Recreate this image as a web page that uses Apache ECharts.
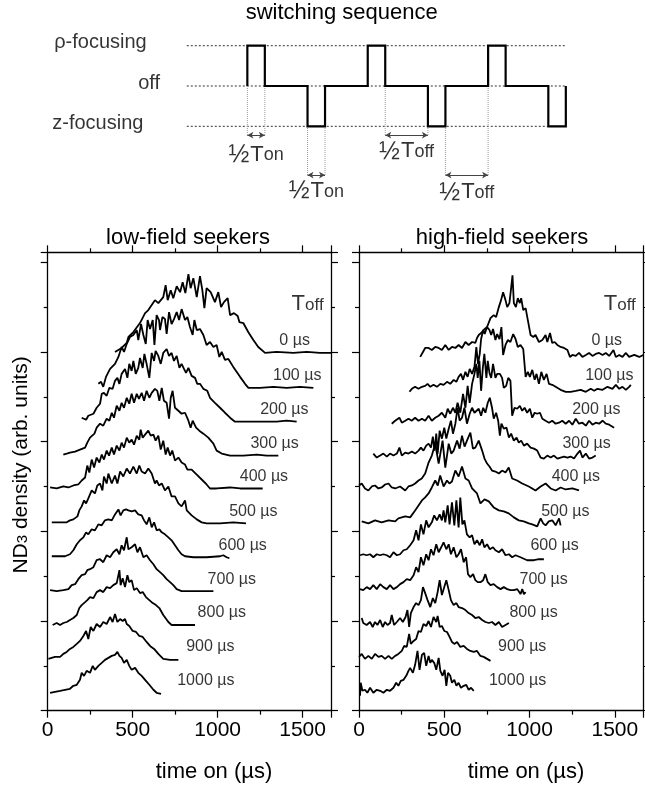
<!DOCTYPE html>
<html>
<head>
<meta charset="utf-8">
<script src="https://cdn.jsdelivr.net/npm/echarts@6/dist/echarts.min.js"></script>
<style>
html, body { margin: 0; padding: 0; background: #fff; }
#chart { width: 645px; height: 789px; }
</style>
</head>
<body>
<div id="chart"></div>
<script>
// ---- data ----
var tMax = 1667;          // right end of the time axis (µs)
var yMax = 460;           // arb. units
var toffNames = ['0 µs', '100 µs', '200 µs', '300 µs', '400 µs', '500 µs', '600 µs', '700 µs', '800 µs', '900 µs', '1000 µs'];
var baselines = [359, 324, 290, 256, 223, 188, 154, 120, 86, 52, 18];   // vertical offset of each trace
var xTicks = [0, 500, 1000, 1500];

// low-field seekers, [time on (µs), signal above baseline]
var low0 = [[396,1],[435,5],[465,10],[475,16],[504,21],[543,30],[573,40],[592,43],[631,53],[651,50],[680,56],[694,68],[706,53],[724,63],[739,55],[759,67],[779,61],[794,71],[810,60],[828,79],[841,65],[857,75],[877,56],[896,77],[910,63],[922,45],[935,65],[959,61],[984,51],[1004,61],[1020,46],[1037,51],[1059,55],[1073,38],[1096,40],[1118,37],[1128,31],[1151,30],[1180,21],[1210,13],[1239,6],[1279,0],[1347,1],[1445,0],[1524,1],[1602,0],[1667,0]];
var low100 = [[298,4],[314,6],[327,1],[343,11],[367,19],[396,24],[416,31],[435,41],[449,36],[465,44],[484,51],[504,53],[524,58],[533,48],[549,64],[563,53],[577,44],[588,68],[602,59],[618,68],[628,43],[641,73],[655,68],[661,58],[675,71],[690,69],[700,54],[714,76],[729,64],[743,69],[759,76],[773,68],[788,79],[808,68],[822,71],[837,61],[853,53],[863,68],[877,58],[896,59],[916,53],[935,43],[955,46],[975,41],[994,43],[1010,31],[1024,36],[1043,28],[1063,29],[1092,21],[1132,11],[1161,4],[1181,0],[1249,0],[1328,1],[1406,0],[1484,1],[1563,0]];
var low200 = [[200,4],[226,2],[239,6],[269,8],[288,14],[308,18],[318,28],[331,29],[347,26],[363,34],[382,33],[396,41],[410,44],[422,38],[435,48],[455,53],[469,44],[480,58],[494,51],[504,61],[518,48],[533,54],[543,64],[559,54],[569,68],[582,58],[598,44],[612,69],[626,61],[635,71],[651,66],[665,58],[680,69],[700,73],[714,66],[729,69],[743,61],[759,66],[775,54],[788,58],[802,53],[814,49],[828,54],[847,46],[867,44],[880,38],[896,38],[916,33],[939,31],[955,24],[984,19],[1014,14],[1043,9],[1073,4],[1102,0],[1171,0],[1269,0],[1347,0],[1406,1],[1465,0]];
var low300 = [[92,1],[112,2],[131,3],[161,4],[190,6],[220,8],[233,13],[249,18],[275,22],[288,28],[308,32],[327,30],[347,37],[363,35],[377,43],[390,38],[406,50],[422,45],[435,53],[449,48],[465,58],[480,52],[494,62],[508,53],[524,62],[537,57],[553,63],[567,55],[582,65],[598,58],[612,63],[631,67],[645,65],[657,55],[671,68],[684,55],[700,53],[714,37],[724,58],[735,65],[749,48],[769,45],[788,42],[808,43],[828,35],[841,28],[853,35],[873,28],[892,25],[916,22],[945,18],[975,12],[994,5],[1024,2],[1073,0],[1151,0],[1230,1],[1288,0],[1357,0]];
var low400 = [[14,1],[53,0],[92,2],[122,1],[151,3],[180,4],[200,8],[220,11],[233,23],[245,16],[259,29],[273,21],[288,31],[304,26],[318,34],[331,29],[347,38],[361,33],[377,41],[390,34],[406,43],[422,38],[435,46],[449,41],[465,51],[480,46],[494,49],[508,44],[524,53],[539,49],[547,59],[559,51],[573,54],[592,58],[606,53],[622,54],[635,48],[651,53],[665,39],[680,48],[694,34],[706,41],[720,33],[733,38],[749,28],[769,31],[788,26],[808,24],[822,19],[847,19],[877,14],[906,9],[935,4],[955,0],[994,0],[1073,1],[1132,0],[1210,0],[1265,0]];
var low500 = [[24,1],[53,1],[82,1],[112,1],[131,3],[151,4],[175,7],[186,13],[200,17],[214,23],[226,20],[239,25],[259,33],[278,30],[292,38],[308,40],[322,33],[331,47],[347,40],[357,50],[377,40],[396,48],[410,40],[426,52],[445,47],[465,55],[484,50],[504,57],[524,50],[539,58],[553,52],[573,50],[592,55],[612,50],[631,40],[641,43],[655,38],[671,40],[690,33],[710,37],[729,27],[749,27],[769,20],[788,17],[808,23],[818,13],[847,8],[877,4],[906,1],[935,0],[1014,0],[1092,1],[1167,0]];
var low600 = [[24,1],[63,1],[102,1],[131,3],[151,7],[171,13],[190,17],[210,20],[226,25],[239,23],[259,28],[278,27],[298,33],[318,32],[337,37],[357,38],[377,37],[396,43],[416,48],[429,42],[445,47],[461,48],[475,47],[494,46],[514,47],[533,43],[553,42],[567,37],[582,33],[598,40],[612,30],[626,35],[641,27],[657,28],[671,25],[690,23],[710,20],[729,17],[749,12],[769,7],[788,3],[808,1],[857,0],[935,0],[1014,1],[1033,2],[1053,0],[1069,-1]];
var low700 = [[14,1],[53,0],[92,1],[122,2],[141,6],[161,7],[180,12],[200,16],[220,17],[233,21],[249,22],[269,24],[288,31],[308,32],[327,29],[347,36],[367,34],[386,39],[406,42],[422,37],[435,46],[449,41],[465,54],[475,42],[494,44],[514,47],[528,39],[543,44],[563,34],[582,36],[602,31],[622,27],[641,22],[661,19],[680,16],[700,12],[720,9],[739,6],[759,2],[788,0],[857,0],[935,0],[975,0]];
var low800 = [[29,0],[53,2],[73,0],[92,2],[112,3],[131,5],[151,7],[171,10],[186,17],[200,20],[220,23],[233,25],[249,28],[269,27],[288,33],[308,35],[327,33],[347,38],[367,37],[386,40],[406,42],[422,55],[429,40],[441,47],[455,38],[469,50],[480,43],[494,45],[508,35],[524,37],[543,32],[559,33],[578,28],[598,25],[618,22],[637,20],[657,17],[680,10],[710,3],[729,0],[798,0],[867,0]];
var low900 = [[4,0],[43,2],[73,2],[92,5],[112,7],[131,10],[151,12],[171,15],[190,18],[210,23],[226,28],[239,20],[253,32],[269,28],[288,35],[308,32],[327,37],[347,35],[367,42],[382,37],[396,45],[410,37],[426,40],[441,38],[455,40],[465,35],[480,33],[500,28],[520,27],[539,23],[559,22],[582,17],[602,13],[626,10],[651,5],[680,0],[720,-1],[769,-1]];
var low1000 = [[14,0],[43,1],[73,2],[102,3],[131,4],[151,7],[171,8],[190,13],[200,20],[214,17],[229,22],[249,20],[265,27],[278,23],[298,27],[318,30],[337,33],[357,35],[377,37],[396,38],[410,41],[422,37],[435,35],[449,30],[465,33],[480,27],[494,23],[514,25],[533,20],[553,17],[573,13],[598,8],[622,3],[641,0],[667,-1]];

// high-field seekers
var high0 = [[359,-4],[375,1],[388,5],[408,5],[427,3],[447,6],[467,5],[486,3],[506,8],[526,3],[545,6],[565,5],[584,8],[604,5],[624,11],[643,8],[663,11],[682,10],[692,15],[702,18],[716,20],[731,23],[751,26],[771,35],[790,38],[804,36],[820,46],[833,53],[845,61],[859,53],[869,46],[882,50],[892,65],[900,78],[908,50],[920,46],[931,55],[943,50],[951,55],[963,43],[977,45],[990,33],[1006,18],[1022,16],[1035,18],[1055,11],[1075,13],[1094,18],[1104,11],[1120,20],[1133,10],[1147,11],[1163,8],[1182,6],[1202,5],[1222,3],[1237,-4],[1251,-2],[1271,-3],[1290,0],[1310,-4],[1330,-2],[1349,0],[1369,-3],[1388,-1],[1408,0],[1428,-2],[1447,0],[1467,-3],[1492,3],[1506,-4],[1526,-2],[1545,-4],[1565,0],[1584,-4],[1614,-2],[1643,-4],[1667,-2]];
var high100 = [[296,-4],[310,-1],[329,1],[349,-1],[369,1],[388,2],[402,4],[418,1],[437,3],[457,1],[477,4],[496,3],[516,6],[535,4],[555,8],[571,6],[584,11],[598,14],[610,8],[624,16],[637,11],[649,19],[663,14],[677,21],[688,41],[698,24],[708,34],[716,49],[728,58],[737,54],[751,61],[765,58],[775,53],[786,59],[800,48],[810,54],[824,49],[835,61],[845,33],[859,43],[873,48],[888,46],[904,54],[918,49],[931,41],[947,43],[963,39],[977,11],[990,16],[1002,11],[1016,18],[1030,8],[1041,14],[1055,4],[1069,16],[1084,8],[1100,14],[1114,4],[1133,3],[1153,1],[1182,-2],[1212,-4],[1241,-4],[1271,-3],[1300,-2],[1330,-4],[1359,-1],[1379,-3],[1398,-1],[1428,-2],[1457,1],[1486,-1],[1506,3],[1526,-1],[1545,1],[1565,-2],[1584,1],[1594,3]];
var high200 = [[192,-2],[212,1],[222,-1],[237,4],[251,-1],[271,1],[290,3],[310,1],[329,4],[349,1],[369,3],[388,1],[408,6],[427,1],[447,4],[467,6],[486,9],[506,4],[520,13],[535,8],[551,14],[565,9],[578,19],[594,9],[610,28],[624,14],[637,36],[649,19],[663,38],[677,48],[688,58],[696,44],[706,61],[716,31],[726,54],[735,68],[747,44],[755,61],[765,49],[775,44],[786,58],[800,44],[810,48],[826,48],[839,44],[849,34],[863,36],[875,44],[888,41],[898,6],[912,14],[928,13],[943,16],[957,11],[971,14],[986,9],[1002,13],[1016,4],[1030,9],[1045,8],[1061,9],[1075,3],[1094,1],[1114,-1],[1133,1],[1153,-2],[1173,-1],[1192,1],[1212,-2],[1232,1],[1251,-3],[1271,3],[1290,-2],[1310,-1],[1330,-4],[1349,1],[1369,-3],[1388,-1],[1408,-2],[1428,1],[1447,-2],[1467,-3],[1496,-6]];
var high300 = [[84,2],[104,-2],[124,0],[143,2],[163,-1],[182,2],[202,0],[222,2],[237,8],[251,0],[271,3],[290,2],[310,4],[329,2],[349,5],[363,8],[378,5],[394,10],[408,12],[422,8],[433,19],[443,5],[453,22],[461,2],[473,25],[486,17],[500,28],[512,17],[526,27],[539,35],[551,22],[565,32],[578,48],[590,35],[604,38],[618,48],[633,32],[649,42],[663,48],[677,43],[688,45],[702,47],[716,40],[728,48],[741,43],[755,53],[767,58],[780,48],[790,37],[804,43],[816,35],[826,20],[835,32],[849,27],[865,28],[879,18],[892,22],[908,15],[924,18],[937,13],[951,15],[967,10],[986,12],[1006,8],[1026,7],[1045,5],[1065,-2],[1084,-3],[1104,0],[1124,-2],[1143,0],[1163,-3],[1182,-2],[1202,-1],[1222,-2],[1241,-1],[1261,-3],[1281,2],[1296,5],[1310,-2],[1330,2],[1349,-3],[1369,-2],[1388,0]];
var high400 = [[0,3],[16,5],[35,0],[55,-2],[75,2],[94,3],[114,0],[133,1],[153,4],[173,5],[192,1],[212,0],[241,2],[271,-2],[290,2],[310,3],[329,5],[349,8],[368,10],[388,15],[408,26],[427,33],[447,45],[467,25],[490,48],[506,21],[526,45],[541,35],[555,38],[575,48],[590,40],[604,53],[619,42],[633,48],[653,56],[668,40],[682,41],[702,48],[722,38],[736,30],[751,25],[765,22],[780,18],[800,17],[820,15],[839,18],[859,16],[878,21],[898,10],[927,8],[957,5],[996,2],[1035,-2],[1065,2],[1094,5],[1124,0],[1153,-2],[1182,1],[1212,-1],[1251,0],[1290,-2]];
var high500 = [[16,2],[55,0],[94,3],[133,1],[173,3],[212,2],[231,5],[271,7],[300,6],[329,13],[349,18],[369,23],[388,26],[408,30],[427,36],[447,43],[462,38],[476,48],[496,37],[516,43],[530,40],[545,42],[565,53],[584,47],[604,57],[624,45],[643,43],[663,35],[692,30],[712,20],[736,24],[761,22],[790,16],[820,13],[849,12],[878,10],[908,6],[937,3],[966,2],[996,0],[1016,-1],[1045,-3],[1065,5],[1080,0],[1094,-2],[1113,2],[1133,3],[1153,-2],[1173,5],[1182,-2]];
var high600 = [[6,2],[25,3],[45,2],[65,3],[84,0],[104,3],[124,2],[143,3],[163,2],[182,0],[202,5],[222,2],[241,3],[261,7],[280,8],[300,12],[320,17],[335,27],[349,17],[363,33],[378,23],[394,37],[408,30],[427,35],[441,42],[457,37],[473,43],[486,37],[496,47],[506,35],[520,52],[531,33],[545,55],[559,32],[571,57],[584,30],[594,60],[606,33],[618,37],[633,23],[649,20],[663,22],[677,13],[692,17],[708,12],[722,18],[735,10],[751,13],[767,8],[786,10],[800,7],[820,5],[839,8],[859,2],[879,3],[898,0],[918,2],[947,0],[986,-3],[1026,-3],[1055,-2],[1084,-2]];
var high700 = [[6,2],[25,1],[45,4],[65,2],[84,6],[104,2],[124,7],[143,4],[163,2],[182,6],[202,2],[222,4],[241,7],[261,9],[280,12],[300,11],[320,16],[335,24],[349,19],[363,34],[378,26],[394,37],[408,31],[422,42],[437,36],[453,47],[467,39],[482,44],[496,49],[512,42],[526,47],[539,37],[555,44],[571,34],[584,37],[598,42],[614,29],[628,34],[639,17],[653,14],[669,17],[682,11],[696,9],[712,9],[728,11],[741,17],[755,9],[771,6],[790,7],[810,4],[830,2],[849,4],[869,2],[888,1],[908,1],[928,2],[947,-3],[957,2],[967,-3],[977,-1]];
var high800 = [[16,7],[25,2],[45,0],[65,3],[80,-2],[94,3],[108,0],[124,5],[139,-2],[153,3],[167,0],[182,2],[192,10],[206,0],[222,3],[241,7],[257,3],[273,8],[284,15],[294,-2],[304,12],[320,18],[335,22],[349,20],[363,25],[375,38],[388,32],[402,25],[418,18],[433,27],[447,22],[461,33],[473,45],[486,30],[496,32],[512,45],[526,35],[539,25],[555,20],[571,22],[584,18],[604,17],[624,15],[643,12],[663,10],[682,7],[702,8],[722,5],[741,3],[761,2],[780,3],[800,0],[820,3],[839,-2],[859,0],[879,2]];
var high900 = [[0,2],[16,5],[35,0],[55,3],[75,0],[94,5],[114,2],[133,3],[153,0],[173,3],[192,0],[212,3],[231,5],[251,8],[265,13],[280,12],[294,25],[304,15],[320,18],[335,20],[349,28],[363,27],[378,35],[394,33],[408,38],[422,32],[437,42],[453,37],[461,43],[473,32],[486,33],[500,28],[516,27],[531,22],[545,17],[559,15],[575,17],[594,12],[614,13],[633,10],[653,8],[673,7],[692,8],[712,3],[731,2],[751,0],[771,-2]];
var high1000 = [[6,-3],[10,10],[20,2],[35,3],[49,0],[65,5],[84,0],[104,3],[124,2],[143,0],[163,3],[182,2],[202,5],[218,10],[231,7],[245,12],[261,13],[277,17],[290,22],[300,25],[316,20],[329,28],[343,42],[355,23],[369,38],[382,40],[394,27],[408,37],[418,30],[427,33],[441,30],[453,23],[467,35],[477,22],[490,17],[502,23],[512,7],[522,20],[535,17],[545,10],[559,13],[571,7],[584,10],[598,5],[614,7],[629,8],[643,3],[657,5],[673,2]];

var lowField = [low0, low100, low200, low300, low400, low500, low600, low700, low800, low900, low1000];
var highField = [high0, high100, high200, high300, high400, high500, high600, high700, high800, high900, high1000];

// switching sequence, in units of ½T_on
var halfOn = 1, halfOff = 2.44, lead = 3.46;
var pulseLevels = [1, -1, 1, -1, 1, -1];
var levelNames = ['ρ-focusing', 'off', 'z-focusing'];
var levelValues = [1, 0, -1];

// ---- layout ----
var FONT = '"Liberation Sans", Arial, Helvetica, sans-serif';
var labelAt = [1363, 1326, 1250, 1193, 1130, 1068, 1005, 941, 882, 815, 762]; // left edge of T_off labels (µs)
var levelLabelX = [-2.29, -1.53, -2.48];

var chart = echarts.init(document.getElementById('chart'), null, {renderer: 'canvas'});

// build waveform from the pulse list
var edges = [];
var wave = [];
var x = lead;
wave.push([x, 0]);
pulseLevels.forEach(function (lvl, i) {
    var start = x;
    wave.push([x, lvl]);
    x += halfOn;
    wave.push([x, lvl]);
    wave.push([x, 0]);
    edges.push([start, x]);
    if (i < pulseLevels.length - 1) {
        x += halfOff;
        wave.push([x, 0]);
    }
});
var waveEnd = x;

// ½T markers: [from, to, arrow level, text level, subscript]
var guides = [
    [edges[0][0], edges[0][1], -1.22, -1.72, 'on'],
    [edges[1][0], edges[1][1], -2.21, -2.62, 'on'],
    [edges[2][1], edges[3][0], -1.22, -1.63, 'off'],
    [edges[3][1], edges[4][0], -2.21, -2.65, 'off']
];

var series = [];
levelValues.forEach(function (lvl) {
    series.push({
        type: 'line', xAxisIndex: 0, yAxisIndex: 0, silent: true, showSymbol: false,
        data: [[0, lvl], [waveEnd, lvl]],
        lineStyle: {color: '#333', width: 1, type: [2, 2]}
    });
});
guides.forEach(function (g) {
    [g[0], g[1]].forEach(function (gx) {
        series.push({
            type: 'line', xAxisIndex: 0, yAxisIndex: 0, silent: true, showSymbol: false,
            data: [[gx, 0], [gx, g[2]]],
            lineStyle: {color: '#999', width: 1, type: [1, 1]}
        });
    });
});
series.push({
    type: 'line', xAxisIndex: 0, yAxisIndex: 0, silent: true, showSymbol: false,
    data: wave,
    lineStyle: {color: '#000', width: 2.2, join: 'miter'},
    markLine: {
        silent: true, symbol: ['arrow', 'arrow'], symbolSize: [5, 6],
        label: {show: false},
        lineStyle: {color: '#444', width: 1, type: 'solid'},
        data: guides.map(function (g) {
            return [{coord: [g[0], g[2]]}, {coord: [g[1], g[2]]}];
        })
    }
});
series.push({
    type: 'scatter', xAxisIndex: 0, yAxisIndex: 0, silent: true, symbolSize: 0, clip: false,
    data: guides.map(function (g) { return {value: [(g[0] + g[1]) / 2, g[3]], name: g[4]}; }),
    label: {
        show: true, position: 'inside', color: '#000', fontFamily: FONT,
        formatter: function (p) { return '{h|½}{t|T}{s|' + p.name + '}'; },
        rich: {
            h: {fontSize: 25, fontFamily: FONT, color: '#000', padding: [0, 1, 0, 0]},
            t: {fontSize: 22, fontFamily: FONT, color: '#000', padding: [0, 0, 1, 0]},
            s: {fontSize: 18, fontFamily: FONT, color: '#000'}
        }
    }
});
series.push({
    type: 'scatter', xAxisIndex: 0, yAxisIndex: 0, silent: true, symbolSize: 0, clip: false,
    data: levelNames.map(function (n, i) { return {value: [levelLabelX[i], levelValues[i]], name: n}; }),
    label: {show: true, position: 'left', distance: 0, offset: [0, -3], formatter: '{b}',
        fontSize: 20, fontFamily: FONT, color: '#000'}
});

function addPanel(traces, xi, yi) {
    traces.forEach(function (tr, i) {
        series.push({
            type: 'line', xAxisIndex: xi, yAxisIndex: yi, silent: true, showSymbol: false,
            data: tr.map(function (p) { return [p[0], p[1] + baselines[i]]; }),
            lineStyle: {color: '#000', width: 1.8}
        });
    });
    series.push({
        type: 'scatter', xAxisIndex: xi, yAxisIndex: yi, silent: true, symbolSize: 0, clip: false,
        data: toffNames.map(function (n, i) { return {value: [labelAt[i], baselines[i] + 12], name: n}; }),
        label: {show: true, position: 'right', distance: 0, formatter: '{b}',
            fontSize: 16, fontFamily: FONT, color: '#000'}
    });
    series.push({
        type: 'scatter', xAxisIndex: xi, yAxisIndex: yi, silent: true, symbolSize: 0, clip: false,
        data: [[1435, 407]],
        label: {show: true, position: 'right', distance: 0,
            formatter: '{t|T}{s|off}',
            rich: {
                t: {fontSize: 22, fontFamily: FONT, color: '#000', padding: [0, 0, 2, 0]},
                s: {fontSize: 17, fontFamily: FONT, color: '#000'}
            }}
    });
}
addPanel(lowField, 1, 1);
addPanel(highField, 3, 3);

var axisLine = {show: true, onZero: false, lineStyle: {color: '#000', width: 1.3}};
function xAx(grid, pos, labels) {
    return {
        type: 'value', gridIndex: grid, position: pos, min: 0, max: tMax, interval: 500,
        axisLine: axisLine,
        axisTick: {show: true, length: 7, lineStyle: {color: '#000', width: 1.2}},
        minorTick: {show: true, splitNumber: 2, length: 4, lineStyle: {color: '#000', width: 1.2}},
        splitLine: {show: false},
        axisLabel: {show: labels, margin: 9, fontSize: 21, fontFamily: FONT, color: '#000',
            showMaxLabel: false,
            formatter: function (v) { return xTicks.indexOf(v) >= 0 ? String(v) : ''; }}
    };
}
function yAx(grid, pos) {
    return {
        type: 'value', gridIndex: grid, position: pos, min: 0, max: yMax, interval: 90,
        axisLine: axisLine,
        axisTick: {show: true, length: 7, lineStyle: {color: '#000', width: 1.2}},
        minorTick: {show: true, splitNumber: 2, length: 4, lineStyle: {color: '#000', width: 1.2}},
        splitLine: {show: false},
        axisLabel: {show: false}
    };
}

var option = {
    animation: false,
    backgroundColor: '#fff',
    grid: [
        {left: 11.8, top: 25.55, width: 554.2, height: 201.5},
        {left: 47.7, top: 252.3, width: 283.3, height: 458.4},
        {left: 359, top: 252.3, width: 284.3, height: 458.4}
    ],
    xAxis: [
        {type: 'value', gridIndex: 0, min: -10, max: 21.67, show: false},
        xAx(1, 'bottom', true), xAx(1, 'top', false),
        xAx(2, 'bottom', true), xAx(2, 'top', false)
    ],
    yAxis: [
        {type: 'value', gridIndex: 0, min: -3.5, max: 1.5, show: false},
        yAx(1, 'left'), yAx(1, 'right'),
        yAx(2, 'left'), yAx(2, 'right')
    ],
    graphic: [
        {type: 'text', x: 341.7, y: 13, style: {text: 'switching sequence', fontSize: 22, fontFamily: FONT, fill: '#000', align: 'center', verticalAlign: 'middle'}},
        {type: 'text', x: 188, y: 238.3, style: {text: 'low-field seekers', fontSize: 22, fontFamily: FONT, fill: '#000', align: 'center', verticalAlign: 'middle'}},
        {type: 'text', x: 502, y: 238.3, style: {text: 'high-field seekers', fontSize: 22, fontFamily: FONT, fill: '#000', align: 'center', verticalAlign: 'middle'}},
        {type: 'text', x: 214, y: 771.7, style: {text: 'time on (µs)', fontSize: 22, fontFamily: FONT, fill: '#000', align: 'center', verticalAlign: 'middle'}},
        {type: 'text', x: 526, y: 771.7, style: {text: 'time on (µs)', fontSize: 22, fontFamily: FONT, fill: '#000', align: 'center', verticalAlign: 'middle'}},
        {type: 'text', x: 23, y: 465, rotation: Math.PI / 2, style: {
            text: '{a|ND}{b|3}{a| density (arb. units)}', align: 'center', verticalAlign: 'middle',
            rich: {
                a: {fontSize: 21, fontFamily: FONT, fill: '#000', padding: [0, 0, 3, 0]},
                b: {fontSize: 15, fontFamily: FONT, fill: '#000'}
            }}}
    ],
    series: series
};
chart.setOption(option);
</script>
</body>
</html>
